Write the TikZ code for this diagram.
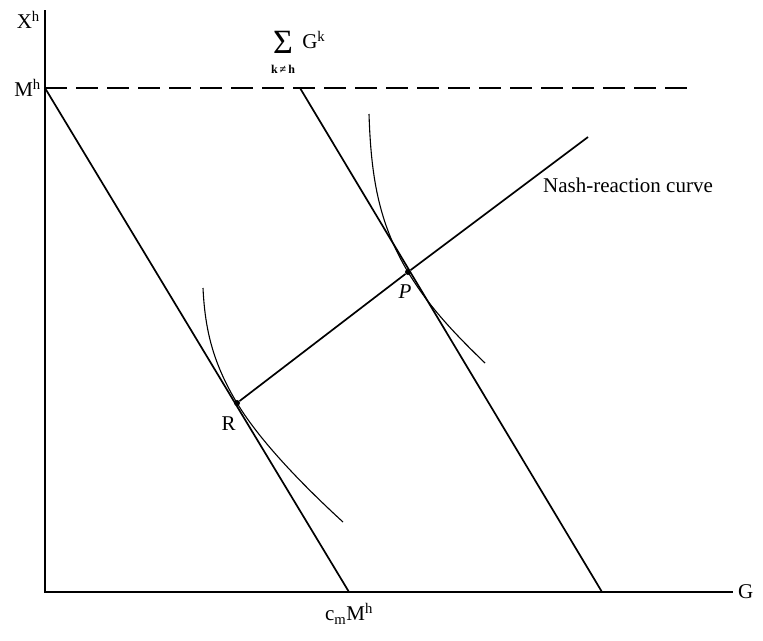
\documentclass[tikz,border=0pt]{standalone}
\usepackage{fontspec}
\setmainfont{Liberation Serif}
\usetikzlibrary{positioning, calc}
\tikzset{
    axis/.style={line width=1.1pt},
    budget/.style={line width=1.7pt},
    indiff/.style={line width=1.1pt},
    guide/.style={line width=1.1pt, dash pattern=on 22pt off 9pt},
    eqpoint/.style={circle, fill=black, inner sep=0pt, minimum size=6pt},
    lbl/.style={font=\fontsize{21}{25}\selectfont, inner sep=1pt}
}

\begin{document}
\begin{tikzpicture}[x=1pt, y=-1pt]
    \useasboundingbox (0,0) rectangle (763,640);

    % AXES
    \coordinate (O) at (45,592);
    \coordinate (ytop) at (45,10);
    \coordinate (xend) at (733,592);
    \draw[axis] (ytop) -- (O) -- (xend);
    \node[lbl, left=4pt of ytop, yshift=-10pt] (Xh) {X\textsuperscript{h}};
    \node[lbl, right=4pt of xend] (G) {G};

    % ENDOWMENT LEVEL
    \coordinate (Mh) at (45,88);
    \coordinate (dashend) at (690,88);
    \draw[guide] (Mh) -- (dashend);
    \node[lbl, left=3pt of Mh] (Mhlbl) {M\textsuperscript{h}};

    % BUDGET LINES
    \coordinate (cmMh) at (349,592);
    \coordinate (sumG) at (300,88);
    \coordinate (sumGend) at (602,592);
    \draw[budget] (Mh) -- (cmMh);
    \draw[budget] (sumG) -- (sumGend);
    \node[lbl, below=10pt of cmMh] (cmlbl) {c\textsubscript{m}M\textsuperscript{h}};
    \node[lbl, font=\fontsize{34}{34}\selectfont] (sigma) at (283,42) {Σ};
    \node[lbl, font=\fontsize{12}{12}\selectfont\bfseries, below=22pt of sigma.center] (sumsub) {k\,≠\,h};
    \node[lbl, right=7pt of sigma, yshift=2pt] (Gk) {G\textsuperscript{k}};

    % EQUILIBRIA
    \node[eqpoint] (R) at (237,403) {};
    \node[eqpoint] (P) at (408,272) {};
    \coordinate (nashend) at (588,137);
    \draw[budget] (R) -- (P) -- (nashend);
    \node[lbl, below left=10pt and -2pt of R] (Rlbl) {R};
    \node[lbl, below=8pt of P, xshift=-3pt] (Plbl) {\textit{P}};
    \node[lbl, below right=40pt and -46pt of nashend] (nashlbl) {Nash-reaction curve};

    % INDIFFERENCE CURVES
    \draw[indiff] (369,114) .. controls (371,175) and (378,222) .. (P.center)
        .. controls (429,307) and (455,334) .. (485,363);
    \draw[indiff] (203,288) .. controls (205,330) and (213,363) .. (R.center)
        .. controls (261,443) and (308,490) .. (343,522);

\end{tikzpicture}
\end{document}
